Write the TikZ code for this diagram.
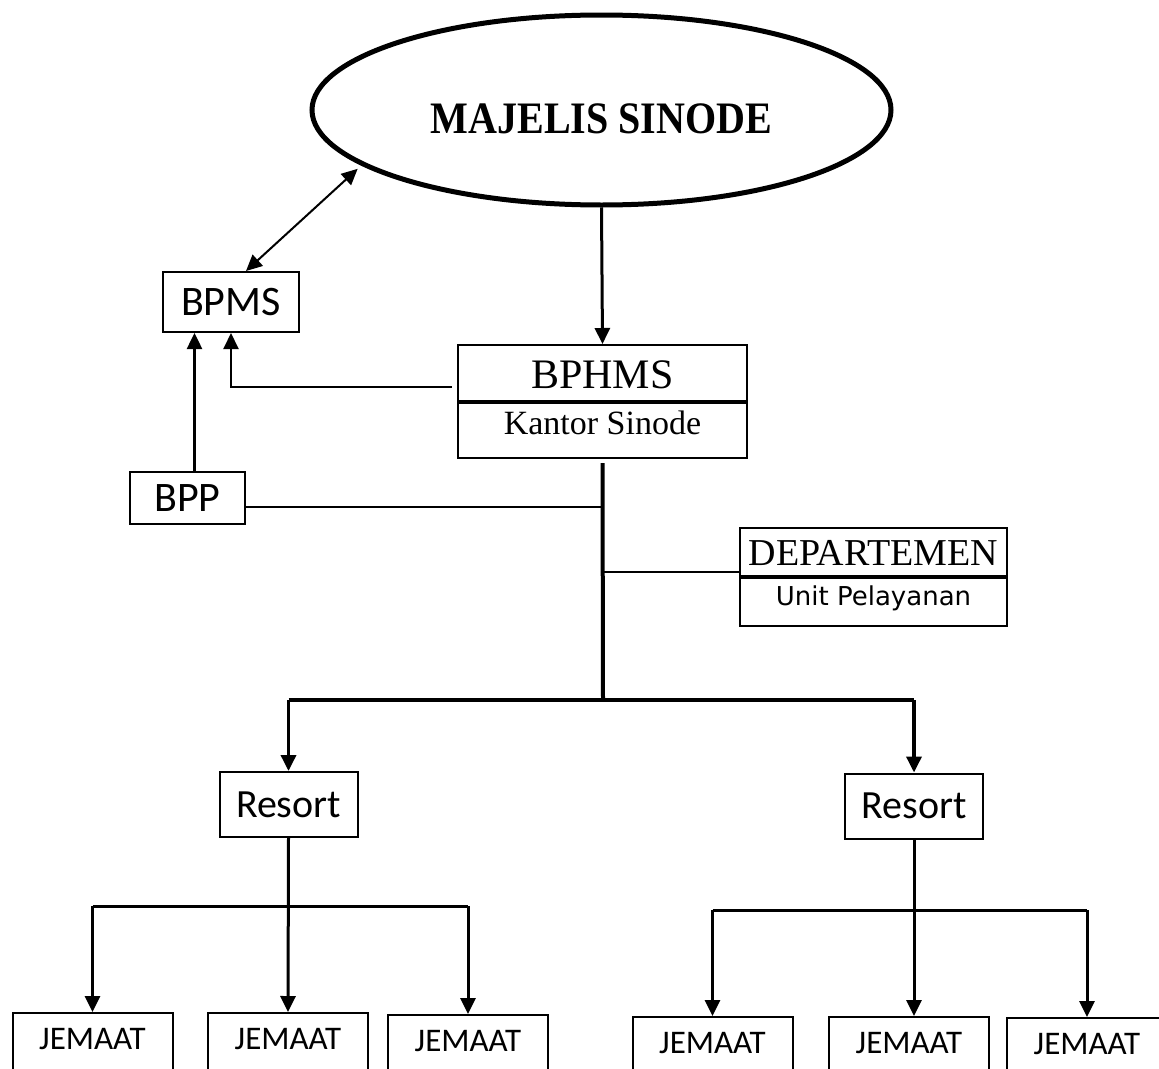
\documentclass[tikz,border=0pt]{standalone}
\usepackage{fontspec}
\usepackage{graphicx}
\usetikzlibrary{arrows.meta,shapes.geometric}
\newfontfamily\sansfont{Carlito}
\newfontfamily\romfont{Liberation Serif}
\newfontfamily\unitfont{DejaVu Sans}
\tikzset{
  kotak/.style={draw,line width=2pt,inner sep=0pt},
  sel/.style={kotak,anchor=north,inner ysep=0pt},
  resort/.style={kotak,minimum width=138pt,minimum height=65pt,font=\sansfont\fontsize{40}{40}\selectfont},
  jemaat/.style={kotak,anchor=north,minimum width=160pt,inner ysep=0pt,text height=36pt,text depth=80pt,font=\sansfont\fontsize{33}{33}\selectfont},
}
\begin{document}
\begin{tikzpicture}[>={Triangle[length=16pt,width=15pt]},x=1pt,y=-1pt,line width=2pt]
\useasboundingbox (0,0) rectangle (1159,1068);
\clip (0,0) rectangle (1159,1068);
% puncak
\node[ellipse,draw,line width=5pt,minimum width=579pt,minimum height=190pt,text height=50pt,text depth=4pt] (majelis) at (601.5,110) {\romfont\bfseries\fontsize{45}{45}\selectfont\scalebox{0.89}[1]{MAJELIS SINODE}};
\node[kotak,minimum width=136pt,minimum height=60pt,font=\sansfont\fontsize{42}{42}\selectfont] (bpms) at (231,302) {BPMS};
\node[kotak,minimum width=115pt,minimum height=52pt,font=\sansfont\fontsize{42}{42}\selectfont] (bpp) at (187.5,498) {BPP};
\node[sel,minimum width=289pt,text height=43pt,text depth=13pt,font=\romfont\fontsize{42}{42}\selectfont] (bphms) at (602.5,344) {BPHMS};
\node[sel,minimum width=289pt,text height=31pt,text depth=24pt,font=\romfont\fontsize{34}{34}\selectfont] (kantor) at (bphms.south) {Kantor Sinode};
\node[sel,minimum width=267pt,text height=37pt,text depth=11pt,font=\romfont\fontsize{38}{38}\selectfont] (dept) at (873.5,527) {DEPARTEMEN};
\node[sel,minimum width=267pt,text height=27pt,text depth=21pt,font=\unitfont\fontsize{26}{26}\selectfont] (unit) at (dept.south) {Unit Pelayanan};
% resort
\node[resort] (resortL) at (288.5,804.5) {Resort};
\node[resort] (resortR) at (914,806) {Resort};
% jemaat
\node[jemaat] (jL1) at (92.5,1012) {JEMAAT};
\node[jemaat] (jL2) at (288,1012) {JEMAAT};
\node[jemaat] (jL3) at (468,1014) {JEMAAT};
\node[jemaat] (jR1) at (712.5,1016) {JEMAAT};
\node[jemaat] (jR2) at (909,1016) {JEMAAT};
\node[jemaat] (jR3) at (1087,1017) {JEMAAT};
\coordinate (hub) at (603,700);
\coordinate (bppjoin) at (603,507);
\coordinate (deptjoin) at (603,572);
\coordinate (barL) at (290,906);
\coordinate (barR) at (912,910);
% garis
\draw[->,line width=3pt] (majelis.south) -- (bphms.north);
\draw[<->,shorten <=5pt] (majelis.193) -- ([xshift=15pt]bpms.north);
\draw[->,shorten <=5pt] ([yshift=-14pt]bphms.west) -| (bpms.south);
\draw[->,line width=2.5pt,transform canvas={xshift=7pt}] (bpp.north) -- (bpp.north |- bpms.south);
\draw ([yshift=-9pt]bpp.east) -- (bppjoin);
\draw[line width=4pt,shorten <=4pt] (kantor.south) -- (hub);
\draw (deptjoin) -- (deptjoin -| unit.west);
\draw[line width=4.5pt] (resortL.north |- hub) -- (resortR.north |- hub);
\draw[->,line width=3.5pt] (resortL.north |- hub) -- (resortL.north);
\draw[->,line width=3.5pt] (resortR.north |- hub) -- (resortR.north);
% kiri bawah
\draw[line width=3pt] (jL1.north |- barL) -- (jL3.north |- barL);
\draw[->,line width=3pt] (jL1.north |- barL) -- (jL1.north);
\draw[->,line width=3pt] (resortL.south) -- (jL2.north);
\draw[->,line width=3pt] (jL3.north |- barL) -- (jL3.north);
% kanan bawah
\draw[line width=3pt] (jR1.north |- barR) -- (jR3.north |- barR);
\draw[->,line width=3pt] (jR1.north |- barR) -- (jR1.north);
\draw[->,line width=3pt] (resortR.south) -- (resortR.south |- jR2.north);
\draw[->,line width=3pt] (jR3.north |- barR) -- (jR3.north);
\end{tikzpicture}
\end{document}
